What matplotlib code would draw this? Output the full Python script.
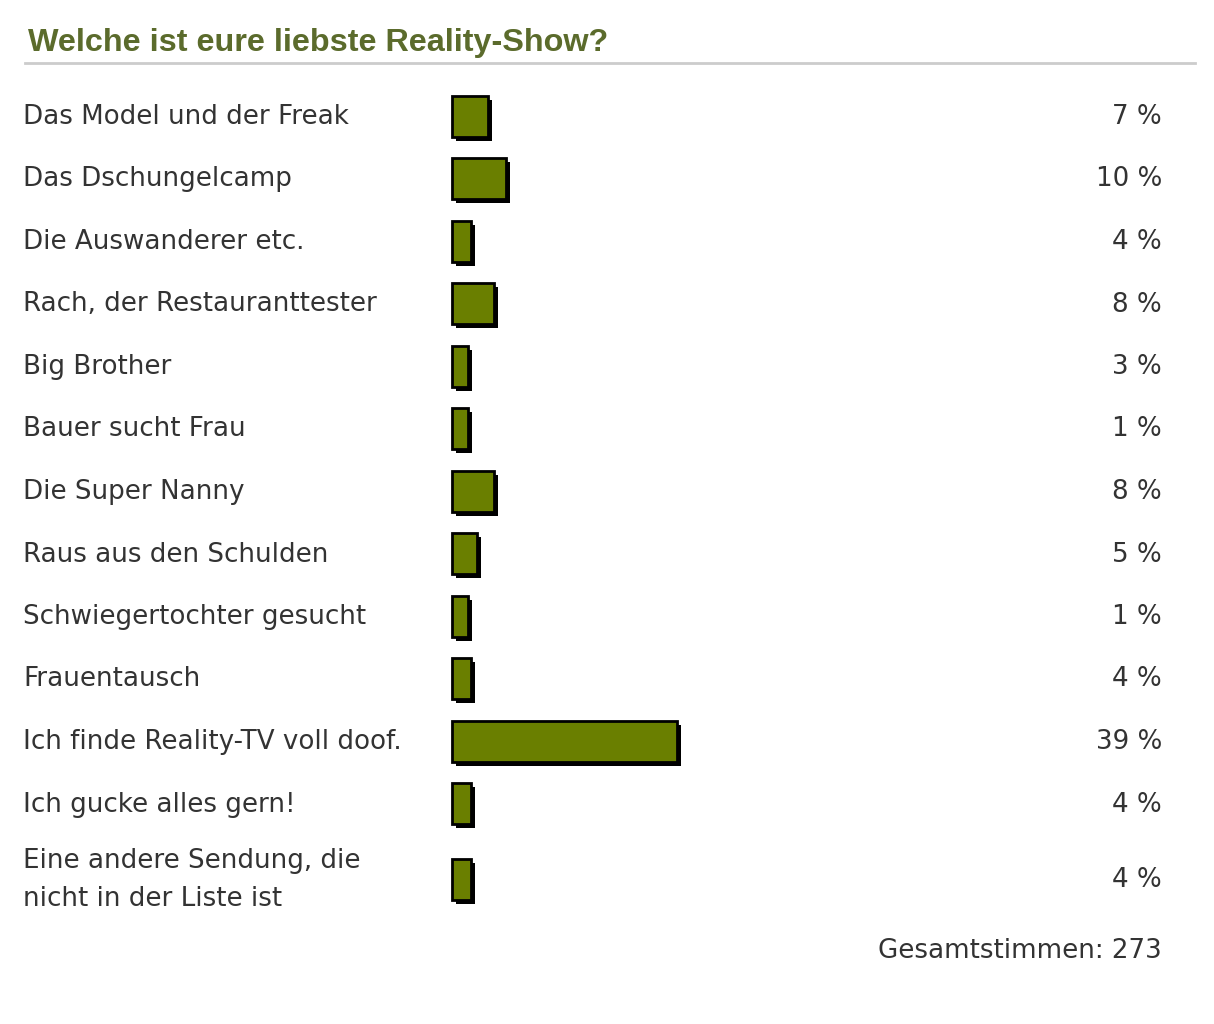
import matplotlib.pyplot as plt

# poll data
labels = ["Das Model und der Freak", "Das Dschungelcamp", "Die Auswanderer etc.",
          "Rach, der Restauranttester", "Big Brother", "Bauer sucht Frau",
          "Die Super Nanny", "Raus aus den Schulden", "Schwiegertochter gesucht",
          "Frauentausch", "Ich finde Reality-TV voll doof.", "Ich gucke alles gern!",
          "Eine andere Sendung, die\nnicht in der Liste ist"]
percent = [7, 10, 4, 8, 3, 1, 8, 5, 1, 4, 39, 4, 4]
title = "Welche ist eure liebste Reality-Show?"
total = 273

W, H = 1214, 1024
fig = plt.figure(figsize=(W / 100, H / 100), dpi=100)
ax = fig.add_axes([0, 0, 1, 1])
ax.set_xlim(0, W)
ax.set_ylim(H, 0)
ax.axis("off")

px_per_pct = 5.9
min_w = 16
bar_left = 452
bar_h = 41
shadow = 4

rows = [116 + 62.5 * i for i in range(len(labels))]
rows[-1] = 879

txt = dict(fontsize=18.8, color="#333333", family="DejaVu Sans", va="center")

for y, lab, p in zip(rows, labels, percent):
    w = max(p * px_per_pct - 5, min_w)
    # shadow then bar
    ax.barh(y + shadow, w, left=bar_left + shadow, height=bar_h, color="black", zorder=1)
    ax.barh(y, w, left=bar_left, height=bar_h, color="#6a7f00",
            edgecolor="black", linewidth=2, zorder=2)
    ax.text(23, y + 1, lab, ha="left", linespacing=1.55, **txt)
    ax.text(1162, y + 1, f"{p} %", ha="right", **txt)

ax.text(1162, 951, f"Gesamtstimmen: {total}", ha="right", **txt)

ax.text(28, 43, title, ha="left", va="center", fontsize=23.3, fontweight="bold",
        color="#5b6b2c", family="Liberation Sans")
ax.plot([25, 1195], [63, 63], color="#cccccc", lw=2)

fig.savefig("out.png", dpi=100, facecolor="white")
